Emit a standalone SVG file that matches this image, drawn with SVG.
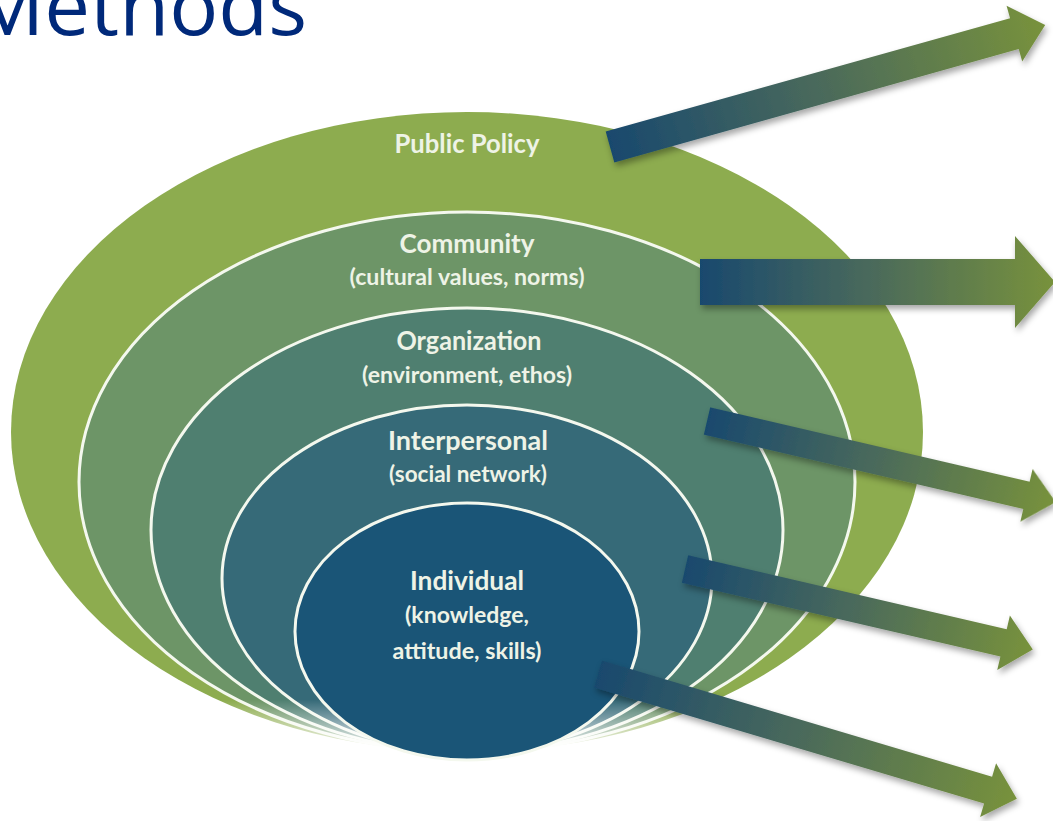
<svg xmlns="http://www.w3.org/2000/svg" width="1053" height="821" viewBox="0 0 1053 821">
  <style>
    .title { font-family: "Open Sans", "Liberation Sans", sans-serif; font-size: 80px; fill: #00297a; }
    .head { font-family: Lato, "Open Sans", "Liberation Sans", sans-serif; font-weight: 700; font-size: 27px; fill: #eef3e6; text-anchor: middle; }
    .sub { font-family: Lato, "Open Sans", "Liberation Sans", sans-serif; font-weight: 700; font-size: 22px; fill: #eef3e6; text-anchor: middle; }
    .ring { stroke: #f4f8ee; stroke-width: 3; }
    .arrow { fill: url(#arrowGrad); }
  </style>
  <defs>
    <linearGradient id="arrowGrad" x1="0" y1="0" x2="1" y2="0">
      <stop offset="0" stop-color="#19496e"/>
      <stop offset="0.5" stop-color="#4c6b5a"/>
      <stop offset="1" stop-color="#78923c"/>
    </linearGradient>
    <linearGradient id="fadeGrad" gradientUnits="userSpaceOnUse" x1="0" y1="700" x2="0" y2="754">
      <stop offset="0" stop-color="#fff"/>
      <stop offset="1" stop-color="#000"/>
    </linearGradient>
    <mask id="bottomFade" maskUnits="userSpaceOnUse" x="0" y="0" width="1053" height="821">
      <rect x="0" y="0" width="1053" height="821" fill="url(#fadeGrad)"/>
    </mask>
    <filter id="shadow" x="-10%" y="-40%" width="120%" height="180%">
      <feDropShadow dx="2" dy="4" stdDeviation="3" flood-color="#000" flood-opacity="0.35"/>
    </filter>
  </defs>

  <rect width="1053" height="821" fill="#ffffff"/>

  <!-- heading, clipped by the top edge -->
  <text class="title" x="-29" y="35" textLength="336" lengthAdjust="spacingAndGlyphs">Methods</text>

  <!-- nested levels, outermost first -->
  <g mask="url(#bottomFade)">
    <g id="public-policy">
      <ellipse cx="467" cy="432" rx="456" ry="320" fill="#8dac4f"/>
    </g>
    <g id="community">
      <ellipse class="ring" cx="467" cy="482" rx="388" ry="270" fill="#6d9567"/>
    </g>
    <g id="organization">
      <ellipse class="ring" cx="467" cy="530" rx="316" ry="222" fill="#4f7f70"/>
    </g>
    <g id="interpersonal">
      <ellipse class="ring" cx="467" cy="578.5" rx="245" ry="173.5" fill="#366a78"/>
    </g>
  </g>
  <g id="individual">
    <ellipse class="ring" cx="467" cy="631.5" rx="172" ry="128.5" fill="#1a5577"/>
  </g>

  <!-- level labels -->
  <g id="labels">
    <text class="head" x="467" y="153" textLength="145" lengthAdjust="spacingAndGlyphs">Public Policy</text>
    <text class="head" x="467" y="253" textLength="135" lengthAdjust="spacingAndGlyphs">Community</text>
    <text class="sub" x="467" y="285" textLength="235" lengthAdjust="spacingAndGlyphs">(cultural values, norms)</text>
    <text class="head" x="469" y="350" textLength="145" lengthAdjust="spacingAndGlyphs">Organization</text>
    <text class="sub" x="467" y="383" textLength="210" lengthAdjust="spacingAndGlyphs">(environment, ethos)</text>
    <text class="head" x="468" y="450" textLength="160" lengthAdjust="spacingAndGlyphs">Interpersonal</text>
    <text class="sub" x="468" y="482" textLength="158" lengthAdjust="spacingAndGlyphs">(social network)</text>
    <text class="head" x="467" y="590" textLength="114" lengthAdjust="spacingAndGlyphs">Individual</text>
    <text class="sub" x="467" y="623" textLength="124" lengthAdjust="spacingAndGlyphs">(knowledge,</text>
    <text class="sub" x="467" y="659" textLength="149" lengthAdjust="spacingAndGlyphs">attitude, skills)</text>
  </g>

  <!-- outward arrows, one per level -->
  <g id="connectors" filter="url(#shadow)">
    <path class="arrow" transform="translate(610,147) rotate(-15.67)" d="M0,-16 L420,-16 L420,-29 L452,0 L420,29 L420,16 L0,16 Z"/>
    <path class="arrow" transform="translate(700,282)" d="M0,-23 L315,-23 L315,-46 L355,0 L315,46 L315,23 L0,23 Z"/>
    <path class="arrow" transform="translate(707,421) rotate(13.1)" d="M0,-14 L328,-14 L328,-27 L358,0 L328,27 L328,14 L0,14 Z"/>
    <path class="arrow" transform="translate(685,569) rotate(13.04)" d="M0,-14 L327,-14 L327,-28 L357,0 L327,28 L327,14 L0,14 Z"/>
    <path class="arrow" transform="translate(598,674) rotate(16.57)" d="M0,-14 L407,-14 L407,-28 L437,0 L407,28 L407,14 L0,14 Z"/>
  </g>
</svg>
